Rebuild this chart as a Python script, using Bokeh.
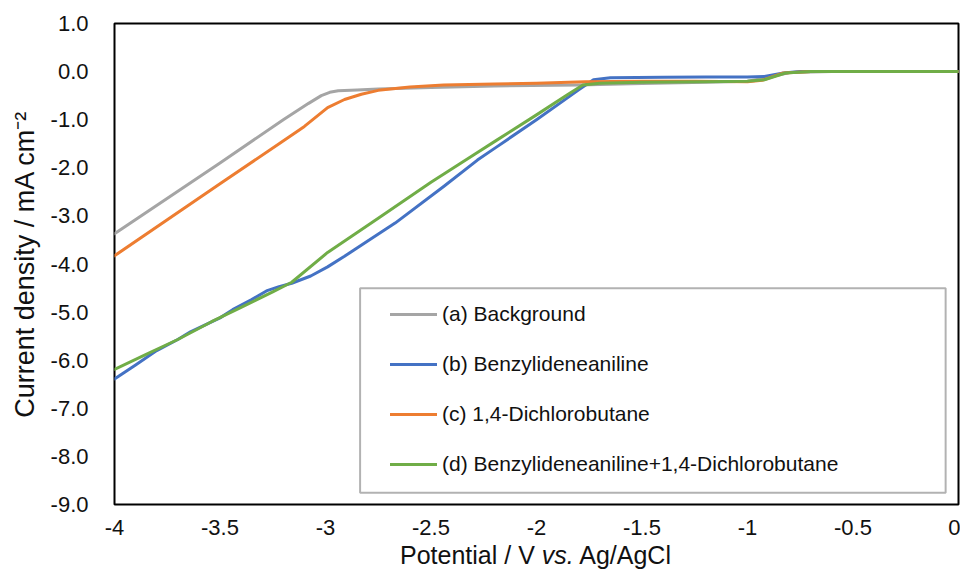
from bokeh.plotting import figure
from bokeh.layouts import column
from bokeh.models import (Range1d, FixedTicker, Legend, LegendItem, Div,
                          BoxAnnotation)
from bokeh.embed import file_html
from bokeh.resources import INLINE

# ---------------- data ----------------
bg_x = [-4.0, -3.5, -3.2, -3.08, -3.02, -2.98, -2.94, -2.85, -2.75,
        -2.5, -2.2, -1.8, -1.5, -1.2, -1.0, -0.9, -0.8, -0.6, 0.0]
bg_y = [-3.37, -1.90, -1.00, -0.66, -0.50, -0.43, -0.40, -0.38, -0.36,
        -0.33, -0.30, -0.28, -0.25, -0.22, -0.20, -0.12, -0.02, 0.0, 0.0]

bz_x = [-4.0, -3.9, -3.8, -3.7, -3.64, -3.5, -3.44, -3.35, -3.28, -3.22,
        -3.16, -3.07, -2.99, -2.91, -2.8, -2.67, -2.44, -2.28, -2.19,
        -2.0, -1.8, -1.73, -1.65, -1.4, -1.2, -1.0, -0.92, -0.83, -0.75, 0.0]
bz_y = [-6.39, -6.10, -5.80, -5.57, -5.41, -5.12, -4.95, -4.74, -4.56, -4.47,
        -4.40, -4.25, -4.06, -3.84, -3.52, -3.15, -2.39, -1.84, -1.57,
        -1.00, -0.38, -0.17, -0.13, -0.12, -0.11, -0.11, -0.10, -0.03, 0.0, 0.0]

dcb_x = [-4.0, -3.5, -3.22, -3.1, -2.99, -2.91, -2.83, -2.75, -2.6, -2.44,
         -2.2, -2.0, -1.77, -1.5, -1.25, -1.0, -0.93, -0.83, -0.7, 0.0]
dcb_y = [-3.83, -2.33, -1.50, -1.14, -0.75, -0.58, -0.47, -0.39, -0.32, -0.28,
         -0.26, -0.24, -0.21, -0.20, -0.20, -0.21, -0.18, -0.03, 0.0, 0.0]

mix_x = [-4.0, -3.85, -3.7, -3.54, -3.4, -3.25, -3.16, -2.99, -2.75, -2.5,
         -2.28, -2.19, -2.0, -1.85, -1.78, -1.7, -1.5, -1.2, -1.0, -0.92,
         -0.82, -0.7, 0.0]
mix_y = [-6.19, -5.88, -5.57, -5.20, -4.90, -4.58, -4.38, -3.76, -3.05, -2.30,
         -1.68, -1.43, -0.90, -0.47, -0.28, -0.24, -0.22, -0.21, -0.20, -0.17,
         -0.03, 0.0, 0.0]

series_labels = ["(a) Background", "(b) Benzylideneaniline",
                 "(c) 1,4-Dichlorobutane",
                 "(d) Benzylideneaniline+1,4-Dichlorobutane"]
series_colors = ["#A5A5A5", "#4472C4", "#ED7D31", "#70AD47"]

x_ticks = [-4, -3.5, -3, -2.5, -2, -1.5, -1, -0.5, 0]
x_tick_labels = ["-4", "-3.5", "-3", "-2.5", "-2", "-1.5", "-1", "-0.5", "0"]
y_ticks = [1, 0, -1, -2, -3, -4, -5, -6, -7, -8, -9]
y_tick_labels = ["1.0", "0.0", "-1.0", "-2.0", "-3.0", "-4.0", "-5.0",
                 "-6.0", "-7.0", "-8.0", "-9.0"]

y_title = "Current density / mA cm\u207b\u00b2"
x_title_html = "Potential / V <i>vs.</i> Ag/AgCl"

FONT = "Liberation Sans"
TXT = "#111111"

# ---------------- figure ----------------
p = figure(width=960, height=541, output_backend="svg", toolbar_location=None,
           x_range=Range1d(-4, 0), y_range=Range1d(-9, 1),
           min_border_left=114, min_border_right=2, min_border_top=23,
           min_border_bottom=37)
p.background_fill_color = "white"
p.border_fill_color = "white"
p.outline_line_color = "black"
p.outline_line_width = 2
p.xgrid.visible = False
p.ygrid.visible = False

for ax in (p.xaxis[0], p.yaxis[0]):
    ax.axis_line_color = None
    ax.major_tick_line_color = None
    ax.minor_tick_line_color = None
    ax.major_tick_out = 0
    ax.major_tick_in = 0
    ax.minor_tick_out = 0
    ax.major_label_text_font = FONT
    ax.major_label_text_font_size = "22px"
    ax.major_label_text_color = TXT

p.xaxis.ticker = FixedTicker(ticks=x_ticks)
p.xaxis.major_label_overrides = {t: l for t, l in zip(x_ticks, x_tick_labels)}
p.xaxis.major_label_standoff = 15

p.yaxis.ticker = FixedTicker(ticks=y_ticks)
p.yaxis.major_label_overrides = {t: l for t, l in zip(y_ticks, y_tick_labels)}
p.yaxis.major_label_standoff = 26
p.yaxis.axis_label = y_title
p.yaxis.axis_label_text_font = FONT
p.yaxis.axis_label_text_font_size = "27px"
p.yaxis.axis_label_text_font_style = "normal"
p.yaxis.axis_label_text_color = TXT
p.yaxis.axis_label_standoff = 8

xs = [bg_x, bz_x, dcb_x, mix_x]
ys = [bg_y, bz_y, dcb_y, mix_y]
renderers = []
for x, y, c in zip(xs, ys, series_colors):
    r = p.line(x, y, line_color=c, line_width=3, line_join="round",
               line_cap="round")
    renderers.append(r)

# legend frame
box = BoxAnnotation(left=-2.836, right=-0.061, top=-4.503, bottom=-8.754,
                    fill_color="white", fill_alpha=1.0,
                    line_color="black", line_width=2)
p.add_layout(box)

legend = Legend(items=[LegendItem(label=l, renderers=[r])
                       for l, r in zip(series_labels, renderers)],
                location=(276, 27), margin=0, padding=10,
                spacing=24, glyph_width=47, glyph_height=26,
                label_height=26, label_standoff=5,
                label_text_font=FONT, label_text_font_size="21px",
                label_text_color=TXT,
                border_line_color=None, background_fill_alpha=0)
p.add_layout(legend)

# x-axis title (with italic "vs."), as real HTML text below the plot
xtitle = Div(text=x_title_html, width=960, height=27, margin=0,
             styles={"font-family": FONT, "font-size": "25px",
                     "color": TXT, "line-height": "29px",
                     "white-space": "nowrap", "padding-left": "400px",
                     "box-sizing": "border-box"})

layout = column(p, xtitle, spacing=0)

open("out.html", "w").write(file_html(layout, INLINE))
